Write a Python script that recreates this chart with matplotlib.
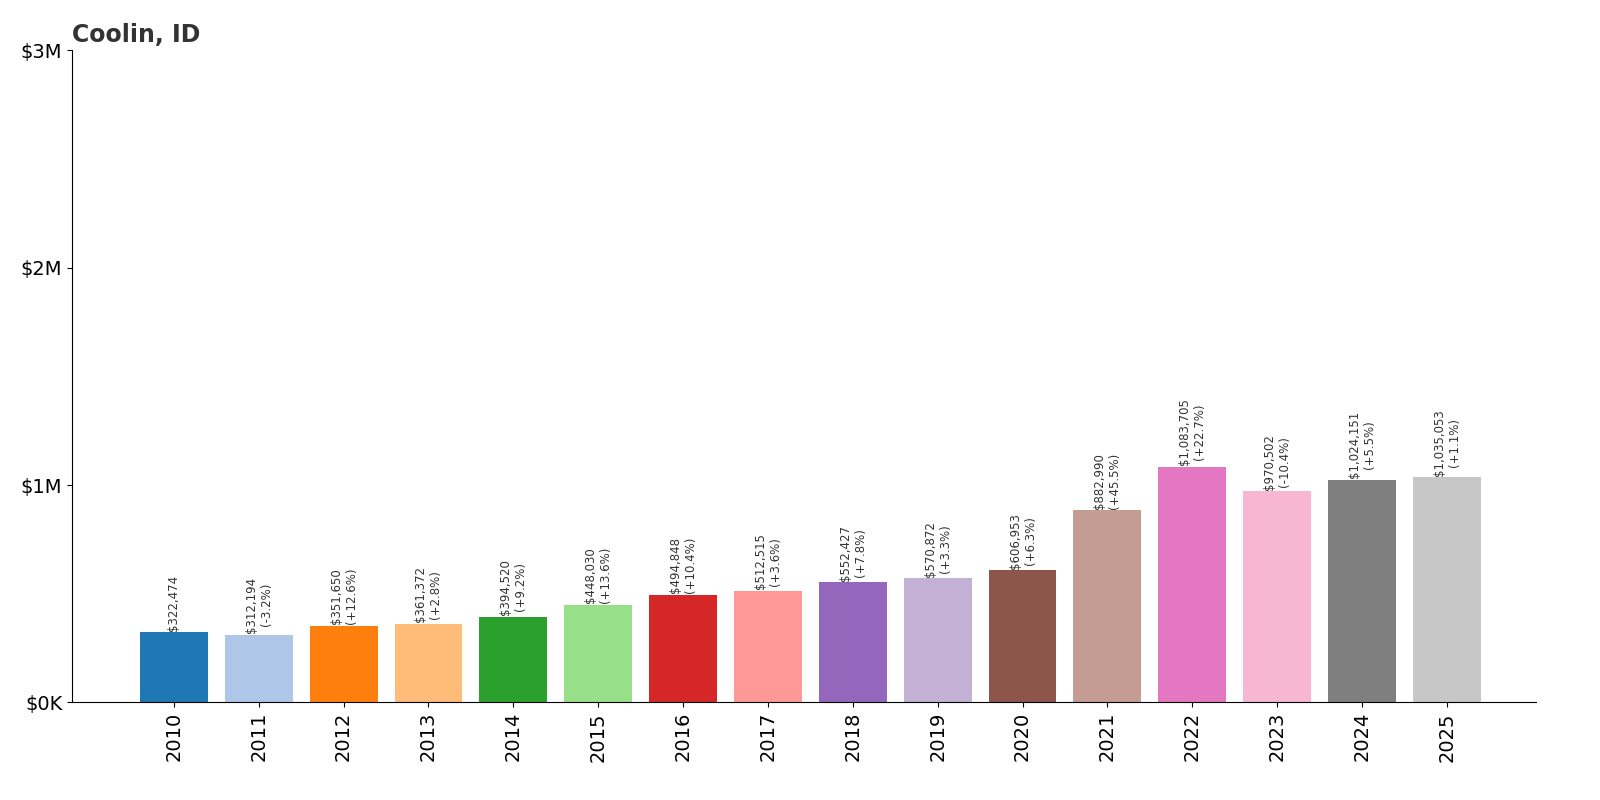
import matplotlib
matplotlib.use("Agg")
import matplotlib.pyplot as plt

years = [str(y) for y in range(2010, 2026)]
values = [322474, 312194, 351650, 361372, 394520, 448030, 494848, 512515, 552427,
          570872, 606953, 882990, 1083705, 970502, 1024151, 1035053]
changes = [None, "-3.2%", "+12.6%", "+2.8%", "+9.2%", "+13.6%", "+10.4%", "+3.6%", "+7.8%",
           "+3.3%", "+6.3%", "+45.5%", "+22.7%", "-10.4%", "+5.5%", "+1.1%"]
yticks = [0, 1e6, 2e6, 3e6]
ytick_labels = ["$0K", "$1M", "$2M", "$3M"]

colors = plt.get_cmap("tab20").colors
fig = plt.figure(figsize=(16, 8), dpi=100)
ax = fig.add_axes([0.045, 0.122, 0.915, 0.815])
x = list(range(len(years)))
ax.bar(x, values, width=0.8, color=[colors[i % 20] for i in x])
for i, v in enumerate(values):
    txt = f"${v:,}" if changes[i] is None else f"${v:,}\n({changes[i]})"
    ax.text(i, v + 8000, txt, rotation=90, ha="center", va="bottom", fontsize=8.5, color="#333333")
ax.set_xticks(x)
ax.set_xticklabels(years, rotation=90, fontsize=14)
ax.set_yticks(yticks)
ax.set_yticklabels(ytick_labels, fontsize=14)
ax.set_ylim(0, 3e6)
ax.set_xlim(-1.2, 16.05)
ax.spines["top"].set_visible(False)
ax.spines["right"].set_visible(False)
ax.set_title("Coolin, ID", loc="left", fontsize=17, fontweight="bold", color="#333333", pad=6)
fig.savefig("out.png")
